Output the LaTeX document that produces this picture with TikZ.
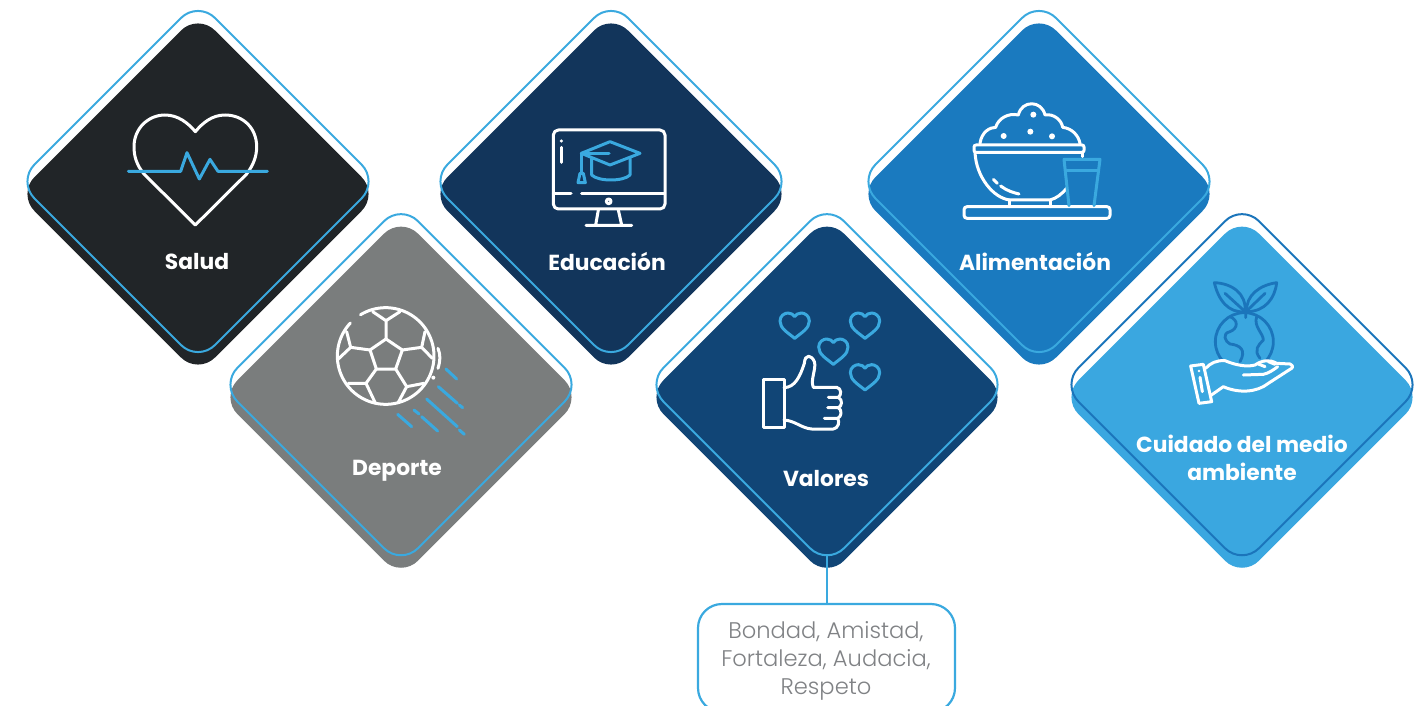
\documentclass[tikz,border=0pt]{standalone}
\usepackage{fontspec}
\setmainfont{Poppins}
\newfontfamily\lightface{Poppins Light}
\definecolor{outlineblue}{HTML}{3AA9DF}
\definecolor{deepblue}{HTML}{1B75BB}
\definecolor{cardblack}{HTML}{212528}
\definecolor{cardgrey}{HTML}{7A7D7D}
\definecolor{cardnavy}{HTML}{12355B}
\definecolor{cardmarine}{HTML}{114576}
\definecolor{cardblue}{HTML}{1A7ABF}
\definecolor{cardsky}{HTML}{3AA7E0}
\definecolor{softgrey}{HTML}{808285}
\tikzset{
  x=1pt,y=-1pt,
  cardlabel/.style={text=white,font=\fontsize{21.8}{28}\selectfont\bfseries,align=center,inner sep=0pt},
  boxlabel/.style={draw=outlineblue,line width=2.2pt,rounded corners=24pt,fill=white,minimum width=257pt,minimum height=108pt,inner sep=0pt},
  wline/.style={draw=white,line width=3pt,line cap=round,line join=round},
  bline/.style={draw=outlineblue,line width=3pt,line cap=round,line join=round},
  dline/.style={draw=deepblue,line width=2.8pt,line cap=round,line join=round},
  zoomed/.style={scale=1/3},
}
\newcommand{\cardshape}[5]{%
  \fill[#3,rounded corners=24pt] (#1,#2+12.5-180.5) -- (#1+180.5,#2+12.5) -- (#1,#2+12.5+180.5) -- (#1-180.5,#2+12.5) -- cycle;
  \draw[#4,line width=2pt,rounded corners=24pt] (#1,#2-180.5) -- (#1+180.5,#2) -- (#1,#2+180.5) -- (#1-180.5,#2) -- cycle;
  \coordinate (#5) at (#1,#2+170.5);
}
\newcommand{\smallheart}[2]{%
  \draw[bline] (#1,#2+38) .. controls (#1-22,#2+20) and (#1-44,#2+8) .. (#1-44,#2-14) .. controls (#1-44,#2-30) and (#1-30,#2-38) .. (#1-20,#2-38) .. controls (#1-10,#2-38) and (#1-4,#2-33) .. (#1,#2-27) .. controls (#1+4,#2-33) and (#1+10,#2-38) .. (#1+20,#2-38) .. controls (#1+30,#2-38) and (#1+44,#2-30) .. (#1+44,#2-14) .. controls (#1+44,#2+8) and (#1+22,#2+20) .. (#1,#2+38) -- cycle;
}
\begin{document}
\begin{tikzpicture}
\useasboundingbox (0,0) rectangle (1427,706);
\clip (0,0) rectangle (1427,706);

\cardshape{198}{181.5}{cardblack}{outlineblue}{salud}
\cardshape{401}{384.7}{cardgrey}{outlineblue}{deporte}
\cardshape{611}{181.5}{cardnavy}{outlineblue}{educacion}
\cardshape{1039}{181.5}{cardblue}{outlineblue}{alimentacion}
\cardshape{827}{384.7}{cardmarine}{outlineblue}{valores}
\cardshape{1242}{384.7}{cardsky}{deepblue}{cuidado}

% heart
\begin{scope}[shift={(20,0)},zoomed]
\draw[wline] (526,675) -- (372,522) .. controls (350,495) and (342,470) .. (342,440) .. controls (342,385) and (385,345) .. (435,345) .. controls (475,345) and (505,370) .. (526,395) .. controls (547,370) and (575,345) .. (615,345) .. controls (670,345) and (710,385) .. (710,440) .. controls (710,470) and (700,495) .. (680,522) -- cycle;
\draw[bline] (325,514) -- (482,514) -- (501,458) -- (538,537) -- (570,478) -- (594,514) -- (742,514);
\end{scope}

% football
\begin{scope}[shift={(300,290)},zoomed]
\draw[wline] plot[domain=238.6:583,samples=90,smooth] ({257+145*cos(\x)},{198+145*sin(\x)});
\draw[wline] (258,147) -- (307,180) -- (287,237) -- (229,237) -- (210,180) -- cycle;
\draw[wline] (258,147) -- (258,92) (218,65) -- (258,92) -- (300,65);
\draw[wline] (307,180) -- (365,172) (375,125) -- (365,172) -- (397,205);
\draw[wline] (287,237) -- (320,290) (372,280) -- (320,290) -- (295,337);
\draw[wline] (229,237) -- (198,280) (145,280) -- (198,280) -- (225,337);
\draw[wline] (210,180) -- (152,172) (115,207) -- (152,172) -- (140,125);
\draw[wline] (414,175) .. controls (422,195) and (421,212) .. (414,235);
\fill[white] (400,263) circle (6);
\draw[bline] (438,237) -- (470,267) (415,290) -- (472,340) (478,345) -- (488,353) (380,327) -- (472,410) (478,420) -- (493,433) (342,360) -- (357,372) (365,380) -- (413,423) (293,373) -- (335,410);
\end{scope}

% monitor
\begin{scope}[shift={(530,115)},zoomed]
\draw[wline,rounded corners=5pt] (70,45) rectangle (405,282);
\draw[wline] (70,237) -- (123,237) (155,237) -- (403,237);
\draw[wline] (236,259) circle (7);
\draw[wline] (205,285) -- (197,330) (265,285) -- (275,330) (168,331) -- (305,331);
\fill[white] (94,78) circle (5);
\draw[wline] (94,97) -- (94,142);
\draw[bline] (154,115) -- (240,80) -- (330,115) -- (240,150) -- cycle;
\draw[bline] (160,115) -- (237,115) (155,115) -- (155,175);
\draw[bline] (150,175) -- (160,175) -- (166,203) -- (144,203) -- cycle;
\draw[bline] (185,130) -- (185,180) .. controls (205,200) and (280,200) .. (300,180) -- (300,130);
\end{scope}

% thumb and hearts
\begin{scope}[shift={(745,300)},zoomed]
\smallheart{149}{77}
\smallheart{360}{77}
\smallheart{265}{155}
\smallheart{360}{232}
\draw[wline] (55,238) rectangle (117,383);
\draw[wline] (117,263) .. controls (150,262) and (165,230) .. (178,190) .. controls (180,160) and (200,165) .. (208,185) .. controls (215,205) and (195,240) .. (205,262) -- (275,262) .. controls (290,265) and (290,285) .. (280,292) -- (250,292);
\draw[wline] (280,292) .. controls (295,300) and (290,320) .. (280,323) -- (248,323);
\draw[wline] (280,323) .. controls (292,330) and (290,350) .. (278,355) -- (238,355);
\draw[wline] (278,355) .. controls (285,365) and (280,385) .. (265,387) -- (200,387) .. controls (170,385) and (150,362) .. (117,360);
\end{scope}

% bowl
\begin{scope}[shift={(950,90)},zoomed]
\draw[wline,rounded corners=2pt] (72,165) rectangle (402,187);
\draw[wline] (75,187) .. controls (78,260) and (130,325) .. (180,330) -- (300,330) .. controls (320,325) and (335,312) .. (350,295);
\draw[wline] (397,187) -- (397,200);
\draw[wline] (178,330) -- (178,350) (300,330) -- (300,350);
\draw[wline,rounded corners=3pt] (42,350) rectangle (480,385);
\draw[wline] (130,268) -- (142,280) (152,288) .. controls (170,302) and (190,308) .. (207,312);
\draw[wline] (90,160) .. controls (95,125) and (120,112) .. (137,112) .. controls (145,85) and (175,68) .. (205,75) .. controls (215,30) and (275,30) .. (285,75) .. controls (310,70) and (335,90) .. (338,112) .. controls (365,115) and (385,135) .. (390,160);
\fill[white] (250,74) circle (9) (241,125) circle (9) (161,138) circle (9) (306,139) circle (9);
\draw[bline] (357,347) -- (342,208) -- (450,208) -- (432,347);
\draw[bline] (350,242) -- (442,242);
\end{scope}

% earth in hand
\begin{scope}[shift={(1175,270)},zoomed]
\draw[dline] (208,215) circle (87);
\draw[dline] (118,38) .. controls (170,40) and (215,70) .. (210,125) .. controls (160,130) and (130,90) .. (118,38) -- cycle;
\draw[dline] (305,38) .. controls (300,85) and (270,125) .. (215,125) .. controls (212,75) and (255,45) .. (305,38) -- cycle;
\draw[dline] (150,70) -- (205,120) (270,70) -- (218,120) (212,125) -- (212,143);
\draw[dline] (165,140) .. controls (190,150) and (190,175) .. (165,185) .. controls (140,190) and (150,215) .. (165,222) .. controls (195,225) and (215,240) .. (195,275);
\draw[dline] (245,140) .. controls (235,170) and (265,190) .. (265,210) .. controls (250,225) and (235,240) .. (255,265);
\draw[wline,fill=cardsky] (92,295) .. controls (105,280) and (125,270) .. (150,272) .. controls (180,285) and (215,292) .. (240,285) .. controls (262,270) and (285,268) .. (305,280) -- (345,282) .. controls (358,288) and (352,295) .. (345,298) -- (280,340) .. controls (245,368) and (190,370) .. (145,350) -- (105,378);
\draw[wline,fill=cardsky] (47,288) -- (85,283) -- (110,395) -- (72,400) -- cycle;
\draw[wline] (75,322) -- (82,365);
\fill[white] (72,303) circle (4);
\draw[wline] (205,315) -- (265,313) .. controls (280,310) and (295,300) .. (308,290);
\draw[wline] (250,282) -- (270,290) (280,275) -- (300,283);
\end{scope}

\node[cardlabel] (saludtext) at (197,262) {Salud};
\node[cardlabel] (deportetext) at (397,471) {Deporte};
\node[cardlabel] (educaciontext) at (607,261) {Educación};
\node[cardlabel] (alimentaciontext) at (1035,261) {Alimentación};
\node[cardlabel] (valorestext) at (826,479) {Valores};
\node[cardlabel] (cuidadotext) at (1242,458) {Cuidado del medio\\ambiente};

\node[boxlabel] (valoresbox) at (826.5,658) {};
\node[text=softgrey,font=\lightface\fontsize{22.6}{28}\selectfont,align=center,inner sep=0pt] (valoreslist) at (826,661) {Bondad, Amistad,\\Fortaleza, Audacia,\\Respeto};
\draw[outlineblue,line width=2.2pt] (valores) -- (valores |- valoresbox.north);
\end{tikzpicture}
\end{document}
